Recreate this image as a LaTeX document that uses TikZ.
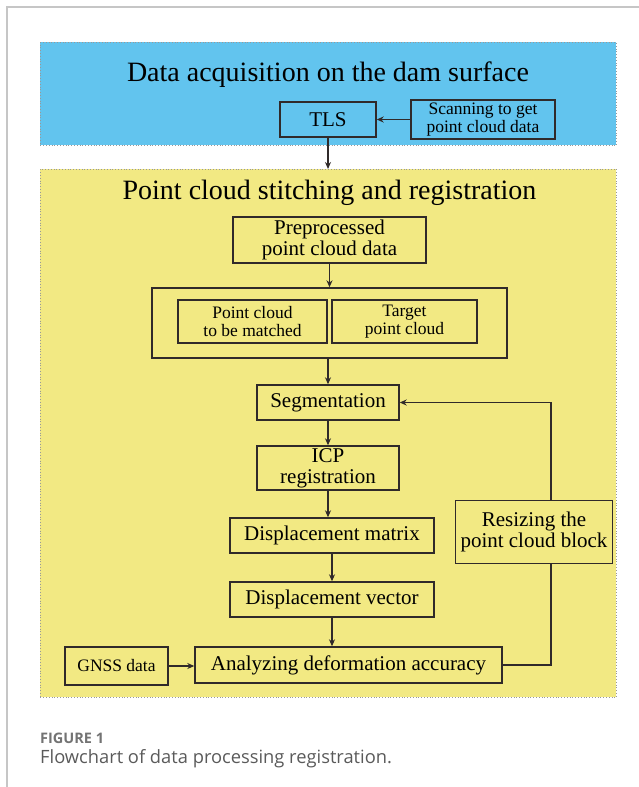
\documentclass[tikz,border=0pt]{standalone}
\usepackage{fontspec}
\setmainfont{Liberation Serif}
\newfontfamily\capfont{Open Sans}
\usetikzlibrary{arrows.meta}
\definecolor{skyfill}{HTML}{62C4EE}
\definecolor{sandfill}{HTML}{F2E983}
\definecolor{edge}{HTML}{302A2A}
\definecolor{capgray}{HTML}{5A5A5A}
\tikzset{
  panel/.style={draw=gray!80, dotted, line width=0.8pt, inner sep=0pt, anchor=north west},
  stepbox/.style={draw=edge, line width=1.4pt, inner sep=0pt, align=center, font=\fontsize{21}{21}\selectfont},
  smallbox/.style={stepbox, font=\fontsize{17.5}{18}\selectfont},
  title/.style={font=\fontsize{28}{28}\selectfont, inner sep=0pt, anchor=base},
  link/.style={draw=edge, line width=1.4pt},
  arr/.style={link, -{Stealth[length=7pt,width=6pt]}},
}
\begin{document}
\begin{tikzpicture}[x=1pt,y=-1pt]
\useasboundingbox (0,0) rectangle (639,787);
% page frame
\draw[gray!45, line width=1.4pt] (639,7) -- (7,7) -- (7,787);
% panels
\node[panel, fill=skyfill, minimum width=576pt, minimum height=103pt] (acq) at (40,42) {};
\node[panel, fill=sandfill, minimum width=576pt, minimum height=528pt] (reg) at (40,169) {};
\node[title] (t1) at (328,81) {Data acquisition on the dam surface};
\node[title] (t2) at (329.5,199) {Point cloud stitching and registration};
% top boxes
\node[stepbox, minimum width=96pt, minimum height=35pt] (tls) at (328,119.5) {TLS};
\node[smallbox, minimum width=144pt, minimum height=39pt] (scan) at (483,119.5) {Scanning to get\\point cloud data};
% main flow
\node[stepbox, minimum width=193pt, minimum height=46pt] (pre) at (329.5,240) {Preprocessed\\point cloud data};
\node[stepbox, minimum width=355pt, minimum height=70pt] (outer) at (329.5,323) {};
\node[smallbox, minimum width=149pt, minimum height=43pt] (in1) at (252.5,321.5) {Point cloud\\to be matched};
\node[smallbox, minimum width=145pt, minimum height=43pt] (in2) at (404.5,321.5) {Target\\point cloud};
\node[stepbox, minimum width=142pt, minimum height=35pt] (seg) at (328,402.5) {Segmentation};
\node[stepbox, minimum width=142pt, minimum height=44pt] (icp) at (328,468) {ICP\\registration};
\node[stepbox, minimum width=204pt, minimum height=35pt] (dm) at (332,535.5) {Displacement matrix};
\node[stepbox, minimum width=204pt, minimum height=35pt] (dv) at (332,599.5) {Displacement vector};
\node[stepbox, minimum width=307pt, minimum height=36pt] (ana) at (348.5,665) {Analyzing deformation accuracy};
\node[smallbox, minimum width=103pt, minimum height=38pt] (gnss) at (116.5,666) {GNSS data};
\node[stepbox, minimum width=157pt, minimum height=63pt] (res) at (534,532) {Resizing the\\point cloud block};
% connectors
\draw[arr] (scan.west) -- (tls.east);
\draw[arr] (tls.south) -- (tls.south |- reg.north);
\draw[arr] (pre.south) -- (pre.south |- outer.north);
\draw[arr] (seg.north |- outer.south) -- (seg.north);
\draw[arr] (seg.south) -- (icp.north);
\draw[arr] (icp.south) -- (icp.south |- dm.north);
\draw[arr] (dm.south) -- (dv.north);
\draw[arr] (dv.south) -- (dv.south |- ana.north);
\draw[arr] (gnss.east) -- (gnss.east -| ana.west);
\coordinate (loopx) at (551,0);
\draw[link] (ana.east) -| (loopx |- res.south);
\draw[arr] (loopx |- res.north) |- (seg.east);
% caption
\node[anchor=base west, inner sep=0pt, font=\capfont\bfseries\fontsize{14.5}{15}\selectfont, text=capgray!85] (fig) at (40,743) {FIGURE 1};
\node[anchor=base west, inner sep=0pt, font=\capfont\fontsize{18.3}{20}\selectfont, text=capgray] (cap) at (40,763) {Flowchart of data processing registration.};
\end{tikzpicture}
\end{document}
